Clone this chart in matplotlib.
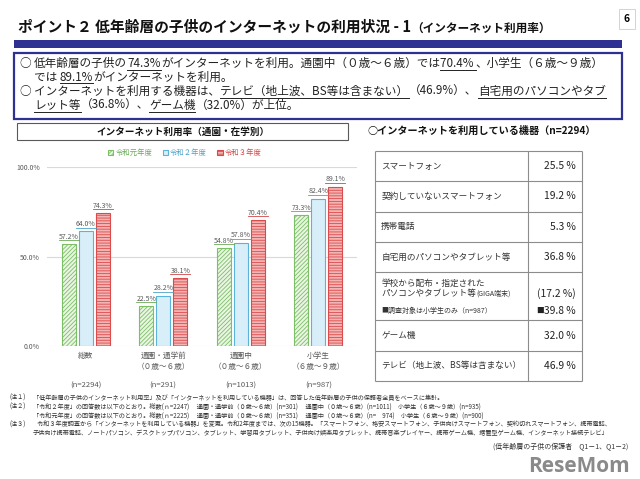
import matplotlib.pyplot as plt
import numpy as np
from matplotlib.patches import Rectangle
from matplotlib.lines import Line2D

plt.rcParams['font.family'] = ['Noto Sans CJK JP', 'DejaVu Sans']
plt.rcParams['hatch.linewidth'] = 0.6

# ---- data ----
categories = ['総数', '通園・通学前\n（０歳～６歳）', '通園中\n（０歳～６歳）', '小学生\n（６歳～９歳）']
n_labels = ['(n=2294)', '(n=291)', '(n=1013)', '(n=987)']
series = ['令和元年度', '令和２年度', '令和３年度']
r1 = [57.2, 22.5, 54.8, 73.3]
r2 = [64.0, 28.2, 57.8, 82.4]
r3 = [74.3, 38.1, 70.4, 89.1]

devices = ['スマートフォン', '契約していないスマートフォン', '携帯電話', '自宅用のパソコンやタブレット等',
           '学校から配布・指定された\nパソコンやタブレット等(GIGA端末)', 'ゲーム機', 'テレビ（地上波、BS等は含まない）']
device_pct = [25.5, 19.2, 5.3, 36.8, 17.2, 32.0, 46.9]
giga_elem_pct = 39.8

notes = [
    ('(注１)', '「低年齢層の子供のインターネット利用率」及び「インターネットを利用している機器」は、回答した低年齢層の子供の保護者全員をベースに集計。'),
    ('(注２)', '「令和２年度」の回答数は以下のとおり。総数(ｎ=2247)　 通園・通学前（０歳～６歳）(n=301)　 通園中（０歳～６歳）(n=1011)　小学生（６歳～９歳）(n=935)'),
    ('', '「令和元年度」の回答数は以下のとおり。総数(ｎ=2225)　 通園・通学前（０歳～６歳）(n=351)　 通園中（０歳～６歳）(n=　974)　小学生（６歳～９歳）(n=900)'),
    ('(注３)', '   令和３年度調査から「インターネットを利用している機器」を変更。令和2年度までは、次の15機器。「スマートフォン、格安スマートフォン、子供向けスマートフォン、契約切れスマートフォン、携帯電話、'),
    ('', '子供向け携帯電話、ノートパソコン、デスクトップパソコン、タブレット、学習用タブレット、子供向け娯楽用タブレット、携帯音楽プレイヤー、携帯ゲーム機、据置型ゲーム機、インターネット接続テレビ」'),
]

W, H = 640, 479
NAVY = '#2e3192'
GRAY = '#595959'


def fx(px):
    return px / W


def fy(py):
    return 1 - py / H


fig = plt.figure(figsize=(6.4, 4.79), dpi=100, facecolor='white')
renderer = fig.canvas.get_renderer()
inv = fig.transFigure.inverted()


def rect(x0, y0, x1, y1, **kw):
    fig.add_artist(Rectangle((fx(x0), fy(y1)), fx(x1) - fx(x0), fy(y0) - fy(y1),
                             transform=fig.transFigure, **kw))


def seg_text(x, y, segs, size, weight='normal', color='#222222'):
    """テキストを順番に並べ、必要な部分に下線を引く"""
    for item in segs:
        s, ul = item[0], item[1]
        sz = item[2] if len(item) > 2 else size
        t = fig.text(fx(x), fy(y), s, fontsize=sz, fontweight=weight, color=color, va='baseline')
        bb = t.get_window_extent(renderer)
        if ul:
            fig.add_artist(Line2D([fx(x), fx(x + bb.width)], [fy(y + 2.5)] * 2,
                                  color=color, lw=0.7, transform=fig.transFigure))
        x += bb.width
    return x


# ---- header ----
seg_text(18, 32, [('ポイント２ 低年齢層の子供のインターネットの利用状況 - 1', 0),
                  ('（インターネット利用率）', 0, 8.4)], 10.6, weight='bold', color='#111111')
fig.text(fx(627), fy(19), '6', fontsize=7.5, fontweight='bold', ha='center', va='center',
         bbox=dict(boxstyle='square,pad=0.5', fc='white', ec='#cccccc', lw=0.6))
rect(14, 40, 622, 48, facecolor=NAVY, edgecolor='none')

# ---- summary box ----
rect(14, 53, 622, 119, facecolor='white', edgecolor=NAVY, lw=1.6)
summary_lines = [
    (20, [('○ ', 0), ('低年齢層の子供の', 0), ('74.3%', 1), ('がインターネットを利用。通園中（０歳～６歳）では', 0),
          ('70.4% ', 1), ('、小学生（６歳～９歳）', 0)]),
    (34, [('では ', 0), ('89.1%', 1), ('がインターネットを利用。', 0)]),
    (20, [('○ ', 0), ('インターネットを利用する機器は、', 0), ('テレビ（地上波、BS等は含まない）', 1),
          ('（46.9%）、', 0), ('自宅用のパソコンやタブ', 1)]),
    (34, [('レット等', 1), ('（36.8%）、', 0), ('ゲーム機', 1), ('（32.0%）が上位。', 0)]),
]
for i, (x0, segs) in enumerate(summary_lines):
    seg_text(x0, 67 + i * 14, segs, 8.4)

# ---- bar chart ----
rect(17, 123, 348, 140, facecolor='white', edgecolor='#595959', lw=0.8)
fig.text(fx(183), fy(131.5), 'インターネット利用率（通園・在学別）', fontsize=6.9, fontweight='bold',
         ha='center', va='center', color='#111111')

ax = fig.add_axes([fx(47), fy(346), (357 - 47) / W, (346 - 167) / H])
x = np.arange(len(categories))
styles = [
    dict(color='#eaf5e4', edgecolor='#7cbf66', hatch='////////'),
    dict(color='#d8eef8', edgecolor='#5cb3da', hatch=None),
    dict(color='#f4b4b4', edgecolor='#db4b4b', hatch='------'),
]
label_colors = ['#6aab55', '#4aa3c8', '#d64545']
offsets = [-0.22, 0.0, 0.22]
ax.set_xlim(-0.5, len(categories) - 0.5)
ax.set_ylim(0, 100)
for vals, name, st, off, lc in zip([r1, r2, r3], series, styles, offsets, label_colors):
    bars = ax.bar(x + off, vals, 0.18, label=name, linewidth=0.8, **st)
    for b, v in zip(bars, vals):
        a = ax.annotate(f'{v:.1f}%', (b.get_x() + b.get_width() / 2, v), xytext=(0, 2.2),
                        textcoords='offset points', ha='center', va='bottom', fontsize=5, color=GRAY)
        bb = a.get_window_extent(renderer)
        p0 = inv.transform((bb.x0, bb.y0 + 0.8))
        p1 = inv.transform((bb.x1, bb.y0 + 0.8))
        fig.add_artist(Line2D([p0[0], p1[0]], [p0[1], p1[1]], color=lc, lw=0.6,
                              transform=fig.transFigure))

ax.set_yticks([0, 50, 100])
ax.set_yticklabels([f'{v:.1f}%' for v in [0, 50, 100]])
ax.yaxis.grid(True, color='#d9d9d9', lw=0.8)
ax.set_axisbelow(True)
for s in ax.spines.values():
    s.set_visible(False)
ax.tick_params(axis='y', length=0, pad=5, labelsize=5, labelcolor=GRAY)
ax.set_xticks(x)
ax.set_xticklabels(categories, fontsize=5.5, color=GRAY, linespacing=1.4, va='top')
ax.tick_params(axis='x', length=0, pad=4.5)
for i, n in enumerate(n_labels):
    ax.annotate(n, xy=(i, 0), xycoords=('data', 'axes fraction'), xytext=(0, -(386 - 346) * 0.72),
                textcoords='offset points', ha='center', va='center', fontsize=5.5, color=GRAY)

leg = ax.legend(loc='center', bbox_to_anchor=(0.445, 1.078), ncol=3, frameon=False, fontsize=5.3,
                handlelength=0.7, handleheight=0.7, handletextpad=0.3, columnspacing=1.4)
for t, lc in zip(leg.get_texts(), label_colors):
    t.set_color(lc)

# ---- device table ----
fig.text(fx(368), fy(131), '○インターネットを利用している機器（n=2294）', fontsize=7.3,
         fontweight='bold', va='center', color='#111111')
tax = fig.add_axes([fx(375), fy(381), (582 - 375) / W, (381 - 151) / H])
row_h = [1, 1, 1, 1, 1.6, 1, 1]
edges = np.concatenate([[0], np.cumsum(row_h)])
split = (528 - 375) / (582 - 375)
tax.set_xlim(0, 1)
tax.set_ylim(edges[-1], 0)
tax.axis('off')
tax.hlines(edges, 0, 1, color='#8c8c8c', lw=0.8, clip_on=False)
tax.vlines([0, split, 1], 0, edges[-1], color='#8c8c8c', lw=0.8, clip_on=False)
to_data = tax.transData.inverted()
for i, (name, pct) in enumerate(zip(devices, device_pct)):
    top, mid = edges[i], (edges[i] + edges[i + 1]) / 2
    if '\n' in name:
        l1, l2 = name.split('\n')
        l2a = l2.replace('(GIGA端末)', '')
        tax.text(0.03, top + 0.38, l1, fontsize=6.2, va='center', color='#333333')
        t2 = tax.text(0.03, top + 0.71, l2a, fontsize=6.2, va='center', color='#333333')
        xg = to_data.transform((t2.get_window_extent(renderer).x1, 0))[0]
        tax.text(xg, top + 0.71, '(GIGA端末)', fontsize=5, va='center', color='#333333')
        tax.text(0.03, top + 1.29, '■調査対象は小学生のみ（n=987）', fontsize=5, va='center', color='#333333')
        tax.text(0.97, top + 0.71, f'({pct:.1f} %)', fontsize=7.4, ha='right', va='center', color='#222222')
        tv = tax.text(0.97, top + 1.29, f'{giga_elem_pct:.1f} %', fontsize=7.4, ha='right', va='center',
                      color='#222222')
        xs = to_data.transform((tv.get_window_extent(renderer).x0, 0))[0]
        tax.text(xs, top + 1.29, '■', fontsize=5.5, ha='right', va='center', color='#222222')
    else:
        tax.text(0.03, mid, name, fontsize=6.2, va='center', color='#333333')
        tax.text(0.97, mid, f'{pct:.1f} %', fontsize=7.4, ha='right', va='center', color='#222222')

# ---- notes ----
for i, (tag, body) in enumerate(notes):
    y = 398 + i * 8.7
    fig.text(fx(10), fy(y), tag, fontsize=4.4, va='center', color='#333333')
    fig.text(fx(33), fy(y), body, fontsize=4.45, va='center', color='#333333')
fig.text(fx(628), fy(447), '(低年齢層の子供の保護者　Q1－1、Q1－2)', fontsize=5, ha='right',
         va='center', color='#333333')
fig.text(fx(630), fy(466), 'ReseMom', fontsize=15, fontweight='bold', ha='right', va='center',
         color='#8a8a8a', family=['Open Sans', 'DejaVu Sans'])

fig.savefig('out.png', dpi=100, facecolor='white')
